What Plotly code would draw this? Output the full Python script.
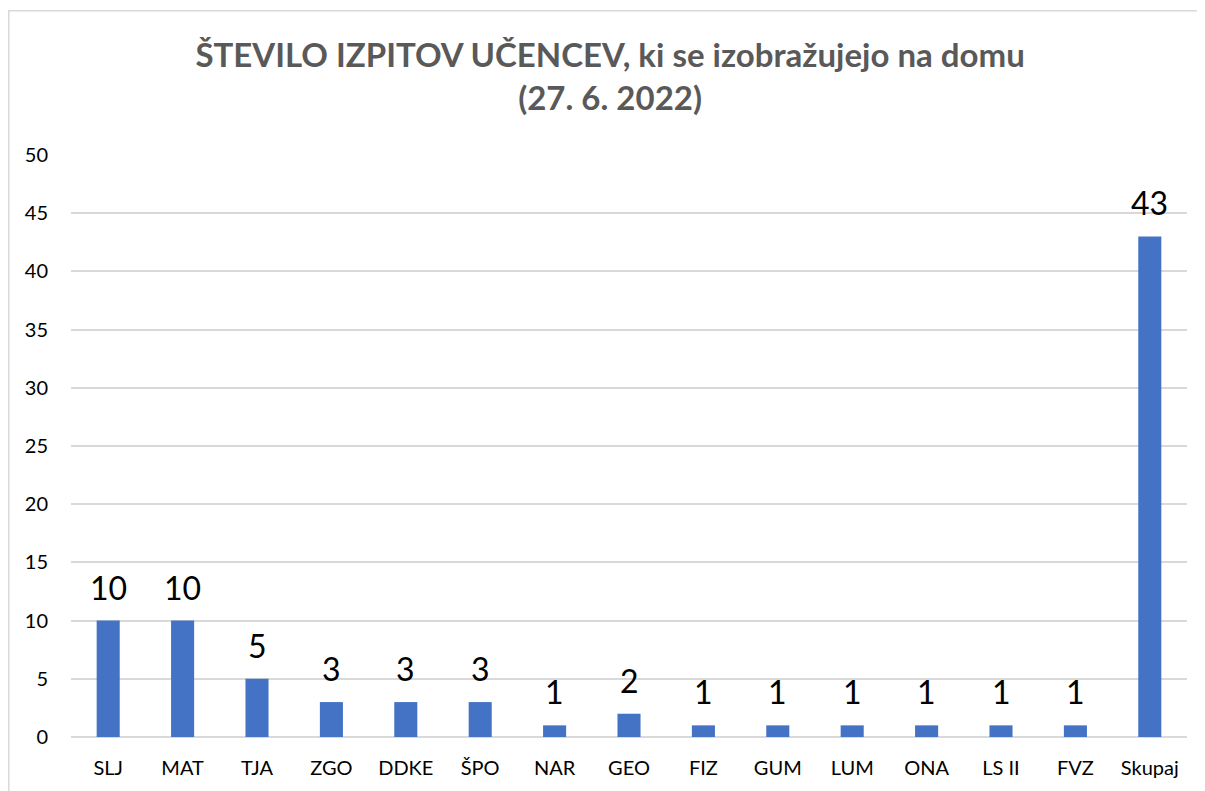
import plotly.graph_objects as go

categories = ["SLJ", "MAT", "TJA", "ZGO", "DDKE", "ŠPO", "NAR", "GEO", "FIZ", "GUM", "LUM", "ONA", "LS II", "FVZ", "Skupaj"]
values = [10, 10, 5, 3, 3, 3, 1, 2, 1, 1, 1, 1, 1, 1, 43]
y_ticks = [0, 5, 10, 15, 20, 25, 30, 35, 40, 45, 50]
title_text = "ŠTEVILO IZPITOV UČENCEV, ki se izobražujejo na domu<br>(27. 6. 2022)"

FONT = "Lato, 'Open Sans', sans-serif"
OFF = 8  # page body margin
W, H = 1205 - OFF, 791 - OFF
ML, MR, MT, MB = 71 - OFF, 18, 155 - OFF, 51
PW = W - ML - MR
PH = H - MT - MB

fig = go.Figure()
fig.add_trace(go.Bar(
    x=categories, y=values,
    marker=dict(color="#4472C4", line=dict(width=0)),
    width=0.31,
    hoverinfo="x+y",
))

annotations = []
for c, v in zip(categories, values):
    annotations.append(dict(
        x=c, y=v, xref="x", yref="y", text=str(v), showarrow=False,
        yanchor="bottom", yshift=12,
        font=dict(family=FONT, size=32, color="#000000"),
    ))

def fx(p):
    return (p - ML) / PW

def fy(p):
    return (H - MB - p) / PH

fig.update_layout(
    width=W, height=H,
    margin=dict(l=ML, r=MR, t=MT, b=MB),
    paper_bgcolor="white", plot_bgcolor="white",
    title=dict(
        text=title_text, x=0.503, xanchor="center", y=0.925, yanchor="top",
        font=dict(family=FONT, size=33, color="#595959", weight="bold"),
    ),
    xaxis=dict(
        type="category", showgrid=False, showline=False, ticks="",
        tickfont=dict(family=FONT, size=20, color="#000000"),
        ticklabelstandoff=17,
    ),
    yaxis=dict(
        range=[0, 50], tickvals=y_ticks, showgrid=True, gridcolor="#D9D9D9", gridwidth=1.5,
        zeroline=True, zerolinecolor="#D9D9D9", zerolinewidth=1.5, showline=False, ticks="",
        tickfont=dict(family=FONT, size=20, color="#000000"),
        ticklabelstandoff=22,
    ),
    annotations=annotations,
    shapes=[dict(
        type="rect", xref="paper", yref="paper",
        x0=fx(0.8), x1=fx(1203 - OFF), y0=fy(H + 20), y1=fy(10 - OFF),
        line=dict(color="#D9D9D9", width=1.5), fillcolor="rgba(0,0,0,0)", layer="below",
    )],
    showlegend=False,
)

fig.write_html("out.html")
